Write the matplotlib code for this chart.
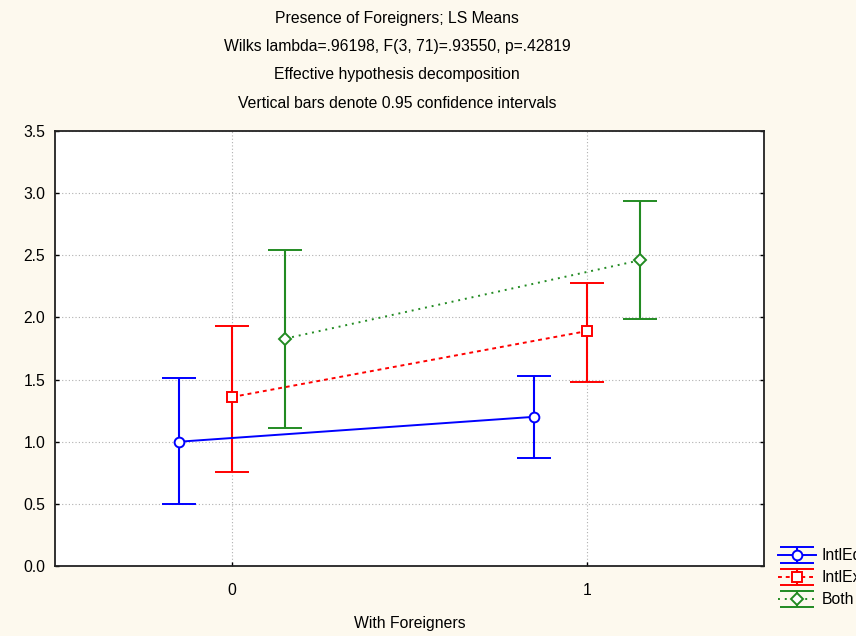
import matplotlib.pyplot as plt

plt.rcParams["font.family"] = ["Liberation Sans", "DejaVu Sans"]

groups = [0, 1]
series = ["IntlEd", "IntlEx", "Both"]
means = {
    "IntlEd": [1.00, 1.20],
    "IntlEx": [1.36, 1.89],
    "Both": [1.83, 2.46],
}
upper = {
    "IntlEd": [1.51, 1.53],
    "IntlEx": [1.93, 2.28],
    "Both": [2.54, 2.94],
}
lower = {
    "IntlEd": [0.50, 0.87],
    "IntlEx": [0.76, 1.48],
    "Both": [1.11, 1.99],
}
title_lines = [
    "Presence of Foreigners; LS Means",
    "Wilks lambda=.96198, F(3, 71)=.93550, p=.42819",
    "Effective hypothesis decomposition",
    "Vertical bars denote 0.95 confidence intervals",
]

styles = {
    "IntlEd": dict(color="#0000ff", marker="o", ls="-", offset=-0.15),
    "IntlEx": dict(color="#ff0000", marker="s", ls=(0, (2, 2)), offset=0.0),
    "Both": dict(color="#228b22", marker="D", ls=(0, (1, 2.5)), offset=0.15),
}

fs = 11.3

fig = plt.figure(figsize=(8.56, 6.36), dpi=100, facecolor="#fdf9ee")
ax = fig.add_axes([55 / 856, 1 - 566 / 636, (764 - 55) / 856, (566 - 131) / 636])
ax.set_facecolor("white")

for name in series:
    st = styles[name]
    xs = [g + st["offset"] for g in groups]
    m = means[name]
    err = [[a - b for a, b in zip(m, lower[name])],
           [b - a for a, b in zip(m, upper[name])]]
    ax.errorbar(xs, m, yerr=err, color=st["color"], ls=st["ls"], lw=1.4,
                marker=st["marker"], ms=7 if st["marker"] != "D" else 6,
                mfc="white", mec=st["color"], mew=1.4,
                capsize=12.5, capthick=1.5, elinewidth=1.5, label=name)

ax.set_xlim(-0.5, 1.5)
ax.set_ylim(0, 3.5)
ax.set_xticks(groups)
ax.set_yticks([0, 0.5, 1.0, 1.5, 2.0, 2.5, 3.0, 3.5])
ax.set_yticklabels([f"{v:.1f}" for v in ax.get_yticks()])
ax.grid(True, ls=(0, (1, 2)), color="#b0b0b0", lw=0.8)
ax.tick_params(direction="in", length=3, width=1, right=True, labelsize=fs,
               colors="black")
ax.tick_params(axis="y", pad=7)
ax.tick_params(axis="x", pad=12)
for sp in ax.spines.values():
    sp.set_linewidth(1.3)
    sp.set_color("#222222")
ax.set_xlabel("With Foreigners", fontsize=fs, labelpad=13)

for i, line in enumerate(title_lines):
    fig.text(397 / 856, 1 - (19 + 28 * i) / 636, line, ha="center", va="center",
             fontsize=fs)

fig.legend(loc="upper left", bbox_to_anchor=(772 / 856, 1 - 542 / 636),
           frameon=False, fontsize=fs, handlelength=2.4, handletextpad=0.35,
           labelspacing=0.45, borderaxespad=0)

fig.savefig("out.png", dpi=100, facecolor=fig.get_facecolor())
